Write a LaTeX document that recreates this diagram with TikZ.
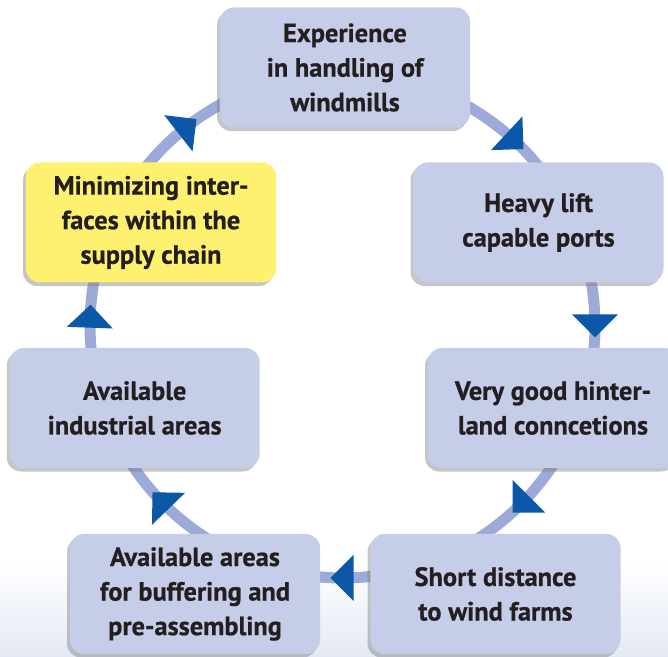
\documentclass[tikz,border=0pt]{standalone}
\usepackage{fontspec}
\setmainfont{PT Sans}[BoldFeatures={FakeBold=0.6}]
\usetikzlibrary{calc,shadows,decorations.markings}
\definecolor{boxblue}{HTML}{C6CDE8}
\definecolor{boxyellow}{HTML}{FFF170}
\definecolor{ringblue}{HTML}{9BAAD6}
\definecolor{tipblue}{HTML}{0B57A8}
\definecolor{textdark}{HTML}{231F20}
\definecolor{bgblue}{HTML}{E3E9F4}
\tikzset{
  box/.style={rectangle, rounded corners=0.42cm, minimum width=7.5cm, minimum height=3.6cm,
    inner sep=0pt, fill=boxblue, align=center, text=textdark,
    font=\bfseries\fontsize{22.5}{29.5}\selectfont,
    drop shadow={shadow xshift=-2.5pt, shadow yshift=-3pt, opacity=0.45}},
  ring/.style={ringblue, line width=0.33cm},
  headat/.style={postaction={decorate, decoration={markings,
    mark=at position #1 with {\fill[tipblue] (12,0) -- (-11,23) -- (-11,-23) -- cycle;}}}}
}
\begin{document}
\begin{tikzpicture}[x=0.03cm, y=0.03cm]
            \useasboundingbox (0,0) rectangle (668,657);
            \fill[top color=white, bottom color=bgblue] (0,0) rectangle (668,95);
            \def\R{252.5}
            \coordinate (c) at (342.5,331.5);
            \foreach \i/\a in {1/90,2/28,3/-22,4/-60,5/-120,6/-158,7/151}
              \coordinate (r\i) at ($(c)+(\a:\R)$);
            % ring with heads between the boxes
            \foreach \i/\a/\m/\b in {1/90/47/28, 2/28/0/-22, 3/-22/-45/-60, 4/-60/-90/-120,
                                      5/-120/-136/-158, 6/-158/-182/-209, 7/151/128/90}{
              \pgfmathsetmacro\f{(\a-\m)/(\a-\b)}
              \draw[ring, headat=\f] (r\i) arc[start angle=\a, end angle=\b, radius=\R];
            }
            \node[box] (1) at (345,589.5) {Experience\\in handling of\\windmills};
            \node[box] (2) at (538.5,434.5) {Heavy lift\\capable ports};
            \node[box] (3) at (553,249) {Very good hinter-\\land conncetions};
            \node[box] (4) at (495.5,63) {Short distance\\to wind farms};
            \node[box] (5) at (195,63) {Available areas\\for buffering and\\pre-assembling};
            \node[box] (6) at (134.7,249) {Available\\industrial areas};
            \node[box, fill=boxyellow] (7) at (151,434.5) {Minimizing inter-\\faces within the\\supply chain};
        \end{tikzpicture}
\end{document}
